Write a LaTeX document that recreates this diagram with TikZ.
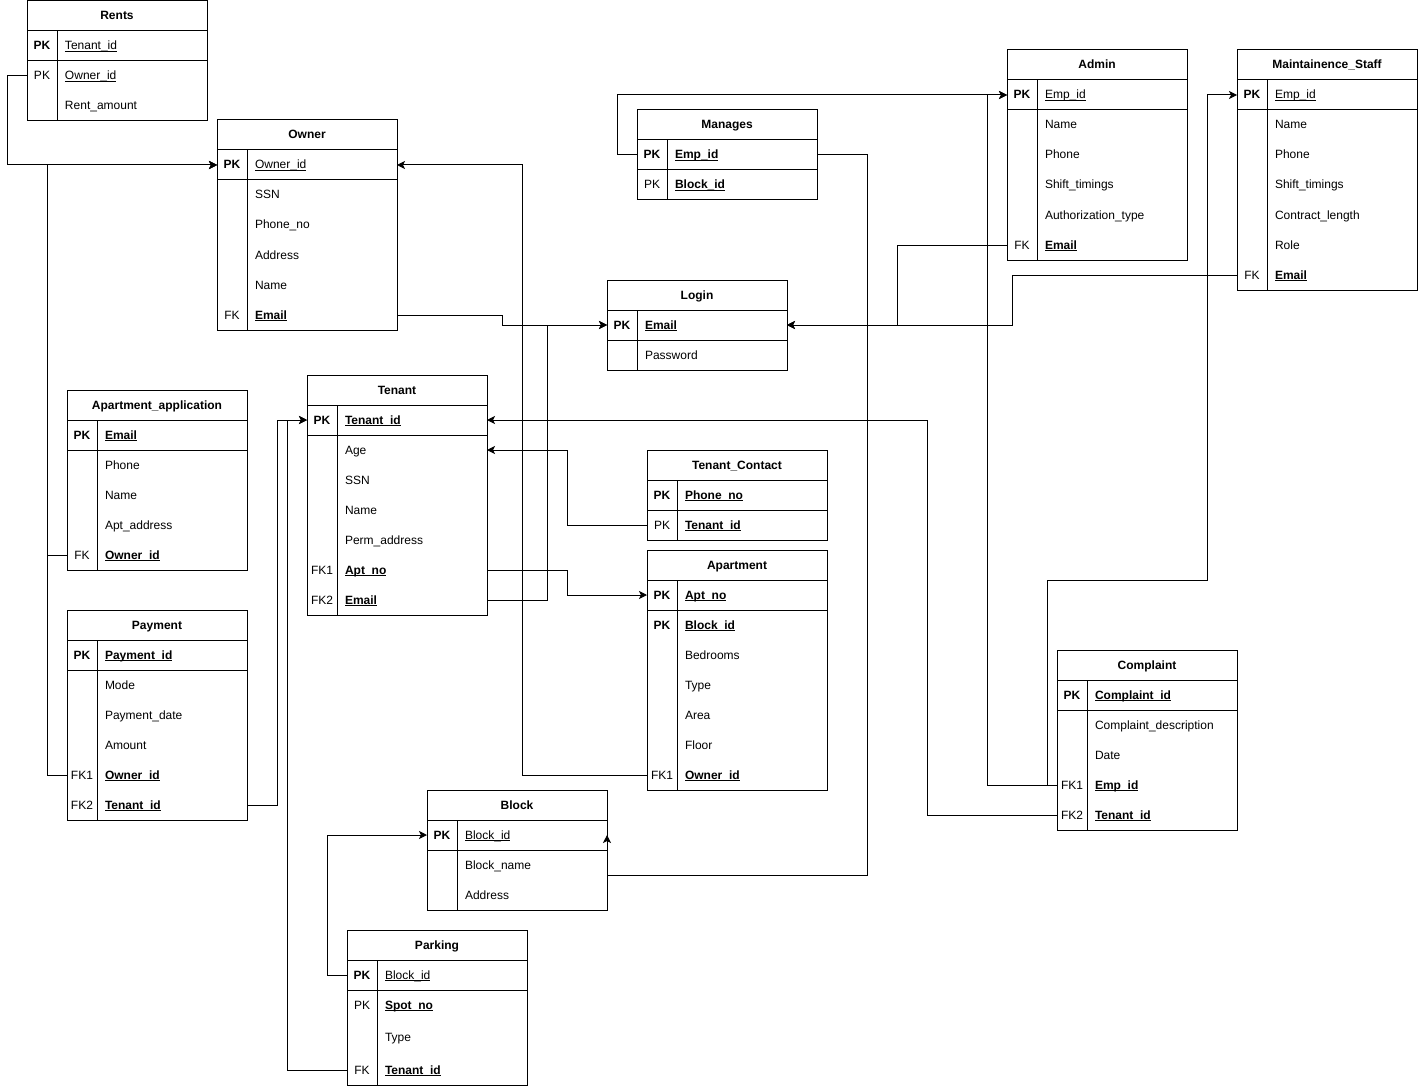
\documentclass[tikz,border=0pt]{standalone}
\usepackage{fontspec}
\setmainfont{Liberation Sans}
\usetikzlibrary{positioning,arrows.meta}

% key column and field name of one row
\newcommand{\erow}[2]{\makebox[30pt]{#1}\hspace{8pt}#2}
\newcommand{\uln}[1]{\setbox0\hbox{#1}\rlap{\rule[-2pt]{\wd0}{0.8pt}}\box0}
\newcommand{\ukey}[1]{\uln{\textbf{#1}}}
% outline, key separator and key column of a table
\newcommand{\tablelines}[3]{%
  \draw (#1.north west) rectangle (#3.south east);
  \draw (#2.south west) -- (#2.south east);
  \draw ([xshift=30pt]#2.north west) -- ([xshift=30pt]#3.south west);}

\begin{document}
\begin{tikzpicture}[x=1pt,y=-1pt,node distance=0pt,line width=1pt,
  font=\fontsize{12pt}{14pt}\selectfont,
  ttl/.style={draw,minimum width=180pt,minimum height=30pt,inner sep=0pt,outer sep=0pt,
    text height=10pt,text depth=2pt,font=\fontsize{12pt}{14pt}\selectfont\bfseries},
  fld/.style={inner sep=0pt,outer sep=0pt,text width=180pt,minimum height=30pt,align=left,
    text height=10pt,text depth=2pt},
  fkline/.style={-{Stealth[length=8pt,width=8pt,inset=2pt]}}]
\useasboundingbox (0,0) rectangle (1418,1086);

% Rents
\node[ttl] (rents) at (117,16) {Rents};
\node[fld,below=of rents] (rents-tid) {\erow{\textbf{PK}}{\uln{Tenant\_id}}};
\node[fld,below=of rents-tid] (rents-oid) {\erow{PK}{\uln{Owner\_id}}};
\node[fld,below=of rents-oid] (rents-amt) {\erow{}{Rent\_amount}};
\tablelines{rents}{rents-tid}{rents-amt}

% Owner
\node[ttl] (owner) at (307,135) {Owner};
\node[fld,below=of owner] (owner-id) {\erow{\textbf{PK}}{\uln{Owner\_id}}};
\node[fld,below=of owner-id] (owner-ssn) {\erow{}{SSN}};
\node[fld,below=of owner-ssn] (owner-phone) {\erow{}{Phone\_no}};
\node[fld,below=of owner-phone] (owner-addr) {\erow{}{Address}};
\node[fld,below=of owner-addr] (owner-name) {\erow{}{Name}};
\node[fld,below=of owner-name] (owner-email) {\erow{FK}{\ukey{Email}}};
\tablelines{owner}{owner-id}{owner-email}

% Manages
\node[ttl] (manages) at (727,125) {Manages};
\node[fld,below=of manages] (man-emp) {\erow{\textbf{PK}}{\ukey{Emp\_id}}};
\node[fld,below=of man-emp] (man-blk) {\erow{PK}{\ukey{Block\_id}}};
\tablelines{manages}{man-emp}{man-blk}

% Login
\node[ttl] (login) at (697,295) {Login};
\node[fld,below=of login] (login-email) {\erow{\textbf{PK}}{\ukey{Email}}};
\node[fld,below=of login-email] (login-pw) {\erow{}{Password}};
\tablelines{login}{login-email}{login-pw}

% Admin
\node[ttl] (admin) at (1097,65) {Admin};
\node[fld,below=of admin] (admin-emp) {\erow{\textbf{PK}}{\uln{Emp\_id}}};
\node[fld,below=of admin-emp] (admin-name) {\erow{}{Name}};
\node[fld,below=of admin-name] (admin-phone) {\erow{}{Phone}};
\node[fld,below=of admin-phone] (admin-shift) {\erow{}{Shift\_timings}};
\node[fld,below=of admin-shift] (admin-auth) {\erow{}{Authorization\_type}};
\node[fld,below=of admin-auth] (admin-email) {\erow{FK}{\ukey{Email}}};
\tablelines{admin}{admin-emp}{admin-email}

% Maintainence_Staff
\node[ttl] (staff) at (1327,65) {Maintainence\_Staff};
\node[fld,below=of staff] (staff-emp) {\erow{\textbf{PK}}{\uln{Emp\_id}}};
\node[fld,below=of staff-emp] (staff-name) {\erow{}{Name}};
\node[fld,below=of staff-name] (staff-phone) {\erow{}{Phone}};
\node[fld,below=of staff-phone] (staff-shift) {\erow{}{Shift\_timings}};
\node[fld,below=of staff-shift] (staff-len) {\erow{}{Contract\_length}};
\node[fld,below=of staff-len] (staff-role) {\erow{}{Role}};
\node[fld,below=of staff-role] (staff-email) {\erow{FK}{\ukey{Email}}};
\tablelines{staff}{staff-emp}{staff-email}

% Apartment_application
\node[ttl] (app) at (157,405) {Apartment\_application};
\node[fld,below=of app] (app-email) {\erow{\textbf{PK}}{\ukey{Email}}};
\node[fld,below=of app-email] (app-phone) {\erow{}{Phone}};
\node[fld,below=of app-phone] (app-name) {\erow{}{Name}};
\node[fld,below=of app-name] (app-addr) {\erow{}{Apt\_address}};
\node[fld,below=of app-addr] (app-oid) {\erow{FK}{\ukey{Owner\_id}}};
\tablelines{app}{app-email}{app-oid}

% Tenant
\node[ttl] (tenant) at (397,390) {Tenant};
\node[fld,below=of tenant] (ten-id) {\erow{\textbf{PK}}{\ukey{Tenant\_id}}};
\node[fld,below=of ten-id] (ten-age) {\erow{}{Age}};
\node[fld,below=of ten-age] (ten-ssn) {\erow{}{SSN}};
\node[fld,below=of ten-ssn] (ten-name) {\erow{}{Name}};
\node[fld,below=of ten-name] (ten-addr) {\erow{}{Perm\_address}};
\node[fld,below=of ten-addr] (ten-apt) {\erow{FK1}{\ukey{Apt\_no}}};
\node[fld,below=of ten-apt] (ten-email) {\erow{FK2}{\ukey{Email}}};
\tablelines{tenant}{ten-id}{ten-email}

% Tenant_Contact
\node[ttl] (contact) at (737,465) {Tenant\_Contact};
\node[fld,below=of contact] (con-phone) {\erow{\textbf{PK}}{\ukey{Phone\_no}}};
\node[fld,below=of con-phone] (con-tid) {\erow{PK}{\ukey{Tenant\_id}}};
\tablelines{contact}{con-phone}{con-tid}

% Apartment
\node[ttl] (apt) at (737,565) {Apartment};
\node[fld,below=of apt] (apt-no) {\erow{\textbf{PK}}{\ukey{Apt\_no}}};
\node[fld,below=of apt-no] (apt-blk) {\erow{\textbf{PK}}{\ukey{Block\_id}}};
\node[fld,below=of apt-blk] (apt-bed) {\erow{}{Bedrooms}};
\node[fld,below=of apt-bed] (apt-type) {\erow{}{Type}};
\node[fld,below=of apt-type] (apt-area) {\erow{}{Area}};
\node[fld,below=of apt-area] (apt-floor) {\erow{}{Floor}};
\node[fld,below=of apt-floor] (apt-oid) {\erow{FK1}{\ukey{Owner\_id}}};
\tablelines{apt}{apt-no}{apt-oid}

% Payment
\node[ttl] (pay) at (157,625) {Payment};
\node[fld,below=of pay] (pay-id) {\erow{\textbf{PK}}{\ukey{Payment\_id}}};
\node[fld,below=of pay-id] (pay-mode) {\erow{}{Mode}};
\node[fld,below=of pay-mode] (pay-date) {\erow{}{Payment\_date}};
\node[fld,below=of pay-date] (pay-amt) {\erow{}{Amount}};
\node[fld,below=of pay-amt] (pay-oid) {\erow{FK1}{\ukey{Owner\_id}}};
\node[fld,below=of pay-oid] (pay-tid) {\erow{FK2}{\ukey{Tenant\_id}}};
\tablelines{pay}{pay-id}{pay-tid}

% Block
\node[ttl] (block) at (517,805) {Block};
\node[fld,below=of block] (blk-id) {\erow{\textbf{PK}}{\uln{Block\_id}}};
\node[fld,below=of blk-id] (blk-name) {\erow{}{Block\_name}};
\node[fld,below=of blk-name] (blk-addr) {\erow{}{Address}};
\tablelines{block}{blk-id}{blk-addr}

% Parking
\node[ttl] (park) at (437,945) {Parking};
\node[fld,below=of park] (park-blk) {\erow{\textbf{PK}}{\uln{Block\_id}}};
\node[fld,below=of park-blk] (park-spot) {\erow{PK}{\ukey{Spot\_no}}};
\node[fld,below=of park-spot,minimum height=35pt] (park-type) {\erow{}{Type}};
\node[fld,below=of park-type] (park-tid) {\erow{FK}{\ukey{Tenant\_id}}};
\tablelines{park}{park-blk}{park-tid}

% Complaint
\node[ttl] (comp) at (1147,665) {Complaint};
\node[fld,below=of comp] (comp-id) {\erow{\textbf{PK}}{\ukey{Complaint\_id}}};
\node[fld,below=of comp-id] (comp-desc) {\erow{}{Complaint\_description}};
\node[fld,below=of comp-desc] (comp-date) {\erow{}{Date}};
\node[fld,below=of comp-date] (comp-emp) {\erow{FK1}{\ukey{Emp\_id}}};
\node[fld,below=of comp-emp] (comp-tid) {\erow{FK2}{\ukey{Tenant\_id}}};
\tablelines{comp}{comp-id}{comp-tid}

% foreign keys
\draw[fkline] (rents-oid.west) -- ++(-20,0) |- (owner-id.west);
\draw[fkline] (app-oid.west) -- ++(-20,0) |- (owner-id.west);
\draw[fkline] (pay-oid.west) -- ++(-20,0) |- (owner-id.west);
\draw[fkline] (apt-oid.west) -- ++(-125,0) |- (owner-id.east);
\draw[fkline] (owner-email.east) -- ++(105,0) |- (login-email.west);
\draw[fkline] (ten-email.east) -- ++(60,0) |- (login-email.west);
\draw[fkline] (admin-email.west) -- ++(-110,0) |- (login-email.east);
\draw[fkline] (staff-email.west) -- ++(-225,0) |- (login-email.east);
\draw[fkline] (man-emp.west) -- ++(-20,0) |- (admin-emp.west);
\draw[fkline] (man-emp.east) -- ++(50,0) |- ([yshift=-40pt]blk-id.east) -- (blk-id.east);
\draw[fkline] (comp-emp.west) -- ++(-70,0) |- (admin-emp.west);
\draw[fkline] (comp-emp.west) -- ++(-10,0) -- ++(0,-205) -- ++(160,0) |- (staff-emp.west);
\draw[fkline] (comp-tid.west) -- ++(-130,0) |- (ten-id.east);
\draw[fkline] (con-tid.west) -- ++(-80,0) |- (ten-age.east);
\draw[fkline] (ten-apt.east) -- ++(80,0) |- (apt-no.west);
\draw[fkline] (pay-tid.east) -- ++(30,0) |- (ten-id.west);
\draw[fkline] (park-tid.west) -- ++(-60,0) |- (ten-id.west);
\draw[fkline] (park-blk.west) -- ++(-20,0) |- (blk-id.west);
\end{tikzpicture}
\end{document}
